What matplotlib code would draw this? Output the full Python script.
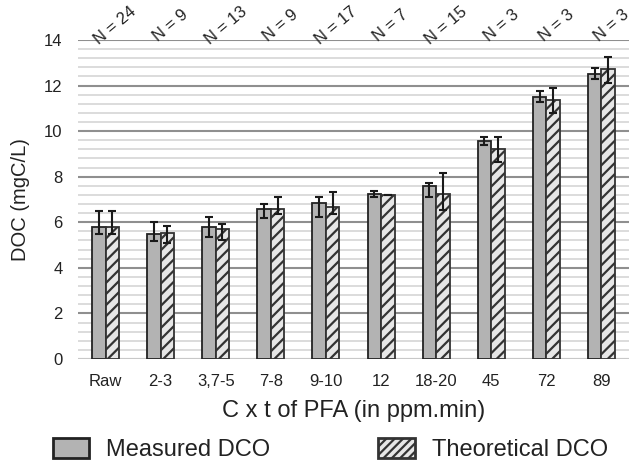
import matplotlib
matplotlib.use("Agg")
import matplotlib.pyplot as plt
import numpy as np
from matplotlib.patches import Patch

plt.rcParams['font.family'] = ['Liberation Sans', 'DejaVu Sans']
plt.rcParams['hatch.linewidth'] = 1.6
plt.rcParams['hatch.color'] = '#2b2b2b'

categories = ["Raw", "2-3", "3,7-5", "7-8", "9-10", "12", "18-20", "45", "72", "89"]
n_labels = ["N = 24", "N = 9", "N = 13", "N = 9", "N = 17", "N = 7", "N = 15", "N = 3", "N = 3", "N = 3"]

measured = [5.81, 5.47, 5.81, 6.57, 6.83, 7.25, 7.60, 9.57, 11.51, 12.52]
measured_err_low = [0.33, 0.28, 0.44, 0.38, 0.58, 0.13, 0.50, 0.18, 0.24, 0.25]
measured_err_high = [0.68, 0.54, 0.41, 0.23, 0.28, 0.14, 0.11, 0.16, 0.25, 0.23]

theoretical = [5.81, 5.51, 5.69, 6.60, 6.67, 7.20, 7.24, 9.23, 11.36, 12.71]
theoretical_err_low = [0.31, 0.44, 0.47, 0.25, 0.31, 0.0, 0.70, 0.57, 0.58, 0.58]
theoretical_err_high = [0.68, 0.33, 0.25, 0.52, 0.67, 0.0, 0.92, 0.52, 0.54, 0.55]

fig = plt.figure(figsize=(6.36, 4.65), dpi=100)
ax = fig.add_axes([0.1226, 0.228, 0.8664, 0.686])

x = np.arange(len(categories))
w = 0.245
ax.bar(x - w / 2, measured, w, color='#b3b3b3', edgecolor='#222222', linewidth=1.3, zorder=3)
ax.bar(x + w / 2, theoretical, w, color='#e6e6e6', edgecolor='#333333', linewidth=1.3,
       hatch='///', zorder=3)
ax.errorbar(x - w / 2, measured, yerr=[measured_err_low, measured_err_high], fmt='none',
            ecolor='#1a1a1a', elinewidth=1.5, capsize=3, capthick=1.5, zorder=4)
ax.errorbar(x + w / 2, theoretical, yerr=[theoretical_err_low, theoretical_err_high], fmt='none',
            ecolor='#1a1a1a', elinewidth=1.5, capsize=3, capthick=1.5, zorder=4)

ax.set_xlim(-0.5, len(categories) - 0.5)
ax.set_ylim(0, 14)
ax.set_yticks(np.arange(0, 15, 2))
ax.set_yticks(np.arange(0, 14.01, 0.4), minor=True)
ax.grid(which='minor', axis='y', color='#dcdcdc', linewidth=1.4, zorder=0)
ax.grid(which='major', axis='y', color='#8f8f8f', linewidth=1.5, zorder=1)
ax.set_xticks(x)
ax.set_xticklabels(categories)
ax.tick_params(axis='both', which='both', length=0, labelsize=12, colors='#222222')
ax.tick_params(axis='y', pad=11)
ax.tick_params(axis='x', pad=11)
for s in ax.spines.values():
    s.set_visible(False)
ax.axhline(0, color='#d0d0d0', linewidth=2, zorder=2)

ax.set_ylabel("DOC (mgC/L)", fontsize=14.5, color='#222222', labelpad=10)
ax.set_xlabel("C x t of PFA (in ppm.min)", fontsize=17, color='#222222', labelpad=8)

for xi, lab in zip(x, n_labels):
    ax.text(xi + 0.18, 14.62, lab, rotation=40, ha='center', va='center',
            fontsize=12, color='#222222', clip_on=False)

handles = [Patch(facecolor='#b3b3b3', edgecolor='#222222', linewidth=2),
           Patch(facecolor='#e6e6e6', edgecolor='#333333', linewidth=2, hatch='////')]
fig.legend(handles, ["Measured DCO", "Theoretical DCO"], loc='center',
           bbox_to_anchor=(0.519, 0.034), ncol=2, frameon=False, fontsize=17,
           handlelength=1.55, handleheight=0.95, columnspacing=4.6, handletextpad=0.7,
           labelcolor='#222222')

fig.savefig("out.png", dpi=100)
